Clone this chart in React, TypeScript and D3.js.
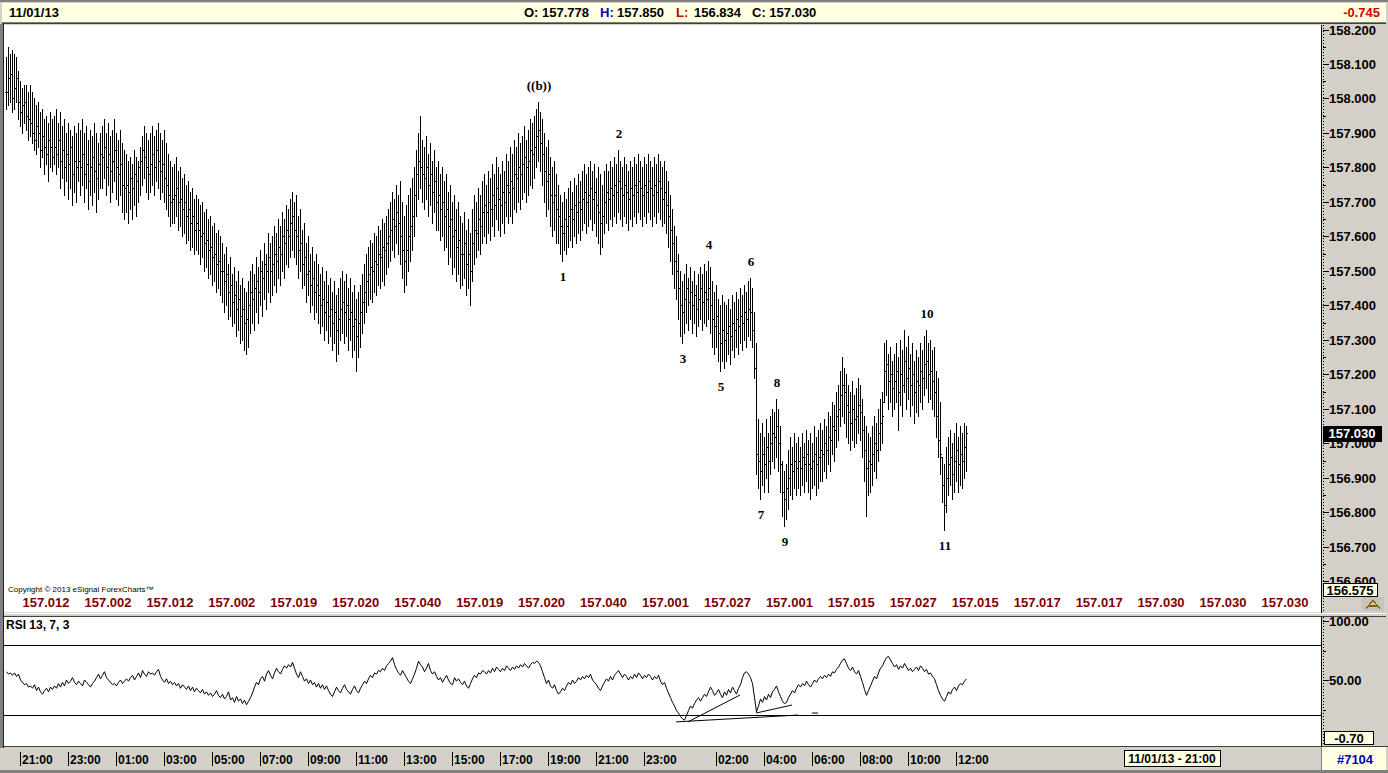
import React from "react";
import * as d3 from "d3";

// 5-minute bars, 10/30 20:25 -> 11/01 12:25 (one row per hour)
const highs = [
  158.12, 158.15, 158.13, 158.14, 158.13, 158.12, 158.08, 158.05, 158.03, 158.04, 158.04, 158.02,
  158.04, 158.02, 158.0, 157.98, 157.99, 157.96, 157.97, 157.94, 157.95, 157.93, 157.96, 157.94,
  157.95, 157.97, 157.93, 157.96, 157.92, 157.94, 157.9, 157.93, 157.91, 157.89, 157.92, 157.9,
  157.93, 157.91, 157.94, 157.9, 157.92, 157.88, 157.91, 157.89, 157.93, 157.9, 157.87, 157.9,
  157.92, 157.94, 157.9, 157.93, 157.89, 157.91, 157.94, 157.9, 157.88, 157.91, 157.87, 157.85,
  157.84, 157.82, 157.83, 157.81, 157.85, 157.83, 157.82, 157.86, 157.89, 157.92, 157.9, 157.88,
  157.9, 157.92, 157.89, 157.91, 157.93, 157.9, 157.88, 157.91, 157.87, 157.84, 157.82, 157.8,
  157.81, 157.83, 157.79, 157.8, 157.77, 157.78, 157.75, 157.76, 157.73, 157.74, 157.71, 157.72,
  157.71, 157.69, 157.7, 157.67, 157.68, 157.65, 157.66, 157.63, 157.64, 157.61, 157.62, 157.6,
  157.58, 157.55, 157.57, 157.52, 157.54, 157.49, 157.51, 157.47, 157.5, 157.46, 157.48, 157.45,
  157.44, 157.47, 157.5, 157.52, 157.49, 157.54, 157.51, 157.56, 157.53, 157.58, 157.55, 157.61,
  157.58, 157.6, 157.63, 157.61, 157.65, 157.63, 157.67, 157.65, 157.69, 157.68, 157.71, 157.73,
  157.7, 157.72, 157.66, 157.68, 157.62, 157.64, 157.58, 157.6, 157.55, 157.57, 157.53, 157.55,
  157.52, 157.49, 157.51, 157.47, 157.5, 157.46, 157.48, 157.44, 157.47, 157.43, 157.45, 157.48,
  157.5, 157.47, 157.49, 157.45, 157.48, 157.44, 157.46, 157.42, 157.44, 157.46, 157.49, 157.52,
  157.55, 157.57, 157.59, 157.58, 157.61, 157.6, 157.63, 157.62, 157.65, 157.64, 157.66, 157.68,
  157.7, 157.73, 157.71, 157.75, 157.72, 157.76, 157.7, 157.66, 157.69, 157.72, 157.74, 157.77,
  157.8, 157.85, 157.9, 157.95, 157.88, 157.86, 157.89, 157.84, 157.87, 157.82, 157.85, 157.8,
  157.82, 157.78, 157.8, 157.76, 157.78, 157.73, 157.75, 157.7, 157.72, 157.68, 157.7, 157.66,
  157.64, 157.67, 157.62, 157.65, 157.61, 157.68, 157.72, 157.7, 157.74, 157.72, 157.76, 157.78,
  157.75, 157.79, 157.77, 157.81, 157.78, 157.83, 157.8, 157.78, 157.82, 157.79, 157.84, 157.82,
  157.86, 157.84, 157.88, 157.86, 157.9, 157.87, 157.89, 157.92, 157.88, 157.91, 157.94, 157.93,
  157.95, 157.97, 157.99, 157.96, 157.94, 157.9, 157.86, 157.88, 157.83, 157.8, 157.82, 157.78,
  157.75, 157.72, 157.7, 157.73, 157.71, 157.74, 157.76, 157.73, 157.77, 157.75, 157.78, 157.76,
  157.79, 157.81, 157.78, 157.8, 157.82, 157.79, 157.81, 157.77, 157.8, 157.78, 157.75, 157.79,
  157.81, 157.79, 157.82, 157.8, 157.83, 157.81, 157.85, 157.82, 157.8, 157.83, 157.81, 157.79,
  157.82, 157.8, 157.83, 157.81, 157.84, 157.82, 157.8, 157.83, 157.81, 157.84, 157.82, 157.8,
  157.83, 157.81, 157.84, 157.82, 157.8, 157.82, 157.79, 157.76, 157.72, 157.68, 157.63, 157.6,
  157.55, 157.5, 157.47, 157.49, 157.52, 157.48, 157.51, 157.47, 157.5, 157.46, 157.49, 157.51,
  157.49, 157.52, 157.5, 157.53, 157.51, 157.47, 157.44, 157.46, 157.42, 157.4, 157.43, 157.41,
  157.4, 157.42, 157.39, 157.43, 157.41, 157.44, 157.42, 157.45, 157.43, 157.46, 157.44, 157.47,
  157.48, 157.45, 157.38, 157.29, 157.07, 157.03, 157.06, 157.02, 157.07, 157.03, 157.08, 157.1,
  157.09, 157.13, 157.1, 157.05, 156.95, 156.92, 156.94, 156.98, 157.02, 156.99, 157.03, 157.0,
  157.02, 156.99, 157.03, 157.0, 157.04, 157.01, 157.03, 157.0, 157.05, 157.02, 157.04, 157.06,
  157.04, 157.07, 157.05, 157.09, 157.08, 157.12, 157.11, 157.15, 157.17, 157.21, 157.25, 157.22,
  157.2, 157.17, 157.15, 157.18, 157.14, 157.16, 157.19, 157.17, 157.13, 157.08, 157.05, 157.03,
  157.02, 157.05, 157.08, 157.06, 157.1, 157.13, 157.15, 157.29, 157.3, 157.26, 157.28, 157.24,
  157.26, 157.29, 157.25, 157.3, 157.27, 157.33, 157.28, 157.31, 157.26, 157.29, 157.24, 157.27,
  157.25, 157.29, 157.27, 157.31, 157.33, 157.29, 157.3, 157.27, 157.28, 157.21, 157.19, 157.12,
  156.96, 156.94, 156.99, 157.02, 157.04, 157.0, 157.03, 157.06, 157.02, 157.05, 157.03, 157.06,
  157.05,
];

const lows = [
  157.97, 157.98, 157.99, 157.96, 157.97, 157.99, 157.94, 157.92, 157.9, 157.93, 157.91, 157.88,
  157.89, 157.87, 157.85, 157.84, 157.86, 157.8, 157.83, 157.78, 157.81, 157.76, 157.8, 157.79,
  157.81, 157.78, 157.8, 157.74, 157.77, 157.72, 157.76, 157.71, 157.74, 157.69, 157.73, 157.7,
  157.76, 157.72, 157.75, 157.7, 157.74, 157.68, 157.72, 157.69, 157.73, 157.67, 157.71, 157.74,
  157.74, 157.77, 157.72, 157.75, 157.7, 157.73, 157.76, 157.71, 157.69, 157.72, 157.67, 157.65,
  157.67, 157.64, 157.68, 157.65, 157.69, 157.66, 157.7, 157.72, 157.75, 157.77, 157.73, 157.71,
  157.73, 157.75, 157.72, 157.76, 157.74, 157.71, 157.73, 157.7, 157.68, 157.66, 157.63, 157.64,
  157.64, 157.66, 157.62, 157.63, 157.6, 157.61, 157.58, 157.59, 157.56, 157.57, 157.55, 157.56,
  157.55, 157.52, 157.54, 157.5, 157.51, 157.48, 157.49, 157.46, 157.47, 157.44, 157.45, 157.43,
  157.41, 157.38, 157.4, 157.36, 157.37, 157.34, 157.35, 157.31, 157.33, 157.29, 157.3, 157.27,
  157.26, 157.28, 157.32, 157.35, 157.33, 157.38, 157.35, 157.4, 157.37, 157.42, 157.39, 157.44,
  157.41, 157.43, 157.46, 157.44, 157.48, 157.46, 157.5, 157.48, 157.52, 157.51, 157.54, 157.56,
  157.54, 157.52, 157.48, 157.5, 157.45, 157.46, 157.41, 157.43, 157.38, 157.4, 157.36, 157.38,
  157.35, 157.32, 157.34, 157.3, 157.33, 157.29, 157.31, 157.27, 157.29, 157.24, 157.26, 157.3,
  157.32, 157.29, 157.31, 157.27, 157.3, 157.25, 157.27, 157.21, 157.25, 157.28, 157.32, 157.35,
  157.38, 157.4, 157.42, 157.41, 157.44, 157.43, 157.46, 157.45, 157.47, 157.46, 157.49, 157.51,
  157.53, 157.56, 157.54, 157.58, 157.55, 157.52, 157.48, 157.44, 157.46, 157.5, 157.53, 157.56,
  157.6, 157.66, 157.71, 157.74, 157.7, 157.68, 157.71, 157.66, 157.69, 157.64, 157.67, 157.62,
  157.62, 157.59, 157.6, 157.56, 157.57, 157.52, 157.54, 157.49, 157.51, 157.47, 157.49, 157.45,
  157.46, 157.48, 157.43, 157.45, 157.4, 157.47, 157.52, 157.54, 157.56, 157.55, 157.58, 157.6,
  157.58, 157.61, 157.59, 157.63, 157.6, 157.65, 157.62, 157.6, 157.64, 157.61, 157.66, 157.64,
  157.66, 157.64, 157.68, 157.67, 157.7, 157.68, 157.71, 157.73, 157.7, 157.72, 157.75, 157.74,
  157.77, 157.8, 157.82, 157.79, 157.75, 157.7, 157.66, 157.68, 157.63, 157.6, 157.62, 157.58,
  157.58, 157.55, 157.53, 157.56, 157.55, 157.57, 157.59, 157.57, 157.6, 157.58, 157.61, 157.59,
  157.62, 157.64, 157.61, 157.63, 157.65, 157.62, 157.64, 157.6, 157.58, 157.55, 157.57, 157.61,
  157.64, 157.62, 157.65, 157.63, 157.66, 157.64, 157.67, 157.65, 157.63, 157.66, 157.64, 157.62,
  157.65, 157.63, 157.66, 157.64, 157.67, 157.65, 157.63, 157.66, 157.64, 157.67, 157.65, 157.63,
  157.66, 157.64, 157.67, 157.65, 157.63, 157.64, 157.61, 157.57, 157.53, 157.49, 157.45, 157.42,
  157.36, 157.31, 157.29, 157.32, 157.35, 157.33, 157.36, 157.32, 157.35, 157.31, 157.34, 157.36,
  157.33, 157.35, 157.34, 157.36, 157.32, 157.28, 157.26, 157.28, 157.24, 157.21, 157.24, 157.22,
  157.24, 157.26, 157.23, 157.27, 157.25, 157.28, 157.26, 157.29, 157.27, 157.3, 157.28, 157.31,
  157.3, 157.28, 157.19, 156.91, 156.87, 156.84, 156.88, 156.86, 156.9, 156.86, 156.91, 156.95,
  156.93, 156.96, 156.92, 156.86, 156.79, 156.76, 156.78, 156.81, 156.85, 156.84, 156.87, 156.85,
  156.87, 156.85, 156.88, 156.86, 156.89, 156.86, 156.84, 156.87, 156.88, 156.85, 156.87, 156.89,
  156.89, 156.92, 156.9, 156.94, 156.92, 156.97, 156.95, 156.99, 157.01, 157.05, 157.08, 157.06,
  157.02, 157.0, 156.98, 157.01, 156.99, 157.0, 157.03, 157.01, 156.96, 156.89, 156.79, 156.85,
  156.86, 156.88, 156.92, 156.9, 156.95, 156.98, 157.0, 157.12, 157.14, 157.1, 157.12, 157.08,
  157.1, 157.12, 157.04, 157.11, 157.08, 157.15, 157.1, 157.13, 157.08, 157.11, 157.06, 157.09,
  157.08, 157.12, 157.1, 157.14, 157.16, 157.12, 157.13, 157.1, 157.08, 157.02, 156.96, 156.91,
  156.83, 156.75, 156.8, 156.85, 156.88, 156.84, 156.86, 156.89, 156.86, 156.88, 156.87, 156.9,
  156.92,
];

const closes = [
  158.02, 158.06, 158.07, 158.0, 158.03, 158.06, 157.99, 157.96, 157.98, 157.99, 157.95, 157.94,
  157.93, 157.9, 157.88, 157.92, 157.9, 157.85, 157.89, 157.86, 157.84, 157.88, 157.86, 157.83,
  157.86, 157.84, 157.88, 157.82, 157.85, 157.8, 157.84, 157.81, 157.86, 157.78, 157.82, 157.8,
  157.82, 157.8, 157.84, 157.78, 157.81, 157.76, 157.8, 157.83, 157.79, 157.77, 157.81, 157.84,
  157.83, 157.86, 157.8, 157.84, 157.79, 157.82, 157.85, 157.8, 157.78, 157.81, 157.75, 157.74,
  157.75, 157.73, 157.77, 157.74, 157.78, 157.76, 157.8, 157.82, 157.85, 157.83, 157.8, 157.78,
  157.81, 157.84, 157.8, 157.85, 157.82, 157.79, 157.81, 157.77, 157.75, 157.72, 157.7, 157.71,
  157.72, 157.74, 157.7, 157.71, 157.68, 157.7, 157.66, 157.68, 157.64, 157.66, 157.62, 157.64,
  157.62, 157.6, 157.61, 157.58, 157.59, 157.56, 157.57, 157.54, 157.55, 157.52, 157.53, 157.5,
  157.5, 157.47, 157.49, 157.44, 157.46, 157.41, 157.43, 157.39, 157.42, 157.37, 157.39, 157.35,
  157.36, 157.4, 157.44, 157.42, 157.45, 157.47, 157.44, 157.5, 157.48, 157.52, 157.5, 157.54,
  157.5, 157.52, 157.55, 157.53, 157.57, 157.55, 157.6, 157.58, 157.62, 157.6, 157.64, 157.66,
  157.62, 157.6, 157.56, 157.58, 157.52, 157.54, 157.49, 157.5, 157.46, 157.48, 157.44, 157.46,
  157.43, 157.4, 157.42, 157.38, 157.41, 157.37, 157.39, 157.35, 157.38, 157.33, 157.36, 157.39,
  157.41, 157.38, 157.4, 157.36, 157.38, 157.34, 157.36, 157.31, 157.35, 157.38, 157.41, 157.44,
  157.47, 157.49, 157.51, 157.5, 157.53, 157.52, 157.55, 157.54, 157.57, 157.56, 157.58, 157.6,
  157.62, 157.65, 157.63, 157.67, 157.64, 157.6, 157.56, 157.53, 157.56, 157.6, 157.63, 157.66,
  157.72, 157.78, 157.82, 157.8, 157.78, 157.77, 157.8, 157.75, 157.78, 157.73, 157.76, 157.7,
  157.72, 157.68, 157.7, 157.66, 157.68, 157.63, 157.65, 157.6, 157.62, 157.57, 157.59, 157.55,
  157.55, 157.58, 157.52, 157.55, 157.5, 157.58, 157.62, 157.61, 157.65, 157.63, 157.67, 157.69,
  157.67, 157.7, 157.68, 157.72, 157.69, 157.74, 157.71, 157.69, 157.73, 157.7, 157.75, 157.73,
  157.76, 157.74, 157.78, 157.77, 157.8, 157.78, 157.81, 157.83, 157.8, 157.82, 157.85, 157.84,
  157.86, 157.89, 157.91, 157.87, 157.84, 157.79, 157.76, 157.78, 157.72, 157.7, 157.72, 157.68,
  157.66, 157.63, 157.61, 157.65, 157.63, 157.66, 157.68, 157.65, 157.69, 157.67, 157.7, 157.68,
  157.71, 157.73, 157.7, 157.72, 157.74, 157.71, 157.73, 157.69, 157.67, 157.64, 157.66, 157.7,
  157.73, 157.71, 157.74, 157.72, 157.75, 157.73, 157.76, 157.74, 157.72, 157.75, 157.73, 157.71,
  157.74, 157.72, 157.75, 157.73, 157.76, 157.74, 157.72, 157.75, 157.73, 157.76, 157.74, 157.72,
  157.75, 157.73, 157.76, 157.74, 157.71, 157.73, 157.69, 157.66, 157.62, 157.58, 157.53, 157.5,
  157.45, 157.4, 157.38, 157.42, 157.45, 157.41, 157.44, 157.4, 157.43, 157.39, 157.42, 157.45,
  157.41, 157.44, 157.42, 157.45, 157.4, 157.36, 157.34, 157.37, 157.32, 157.29, 157.33, 157.3,
  157.32, 157.34, 157.31, 157.35, 157.33, 157.36, 157.34, 157.37, 157.35, 157.38, 157.36, 157.39,
  157.38, 157.33, 157.22, 156.97, 156.95, 156.92, 156.97, 156.94, 156.99, 156.95, 157.0, 157.03,
  157.02, 157.05, 157.0, 156.94, 156.86, 156.84, 156.87, 156.9, 156.94, 156.92, 156.95, 156.93,
  156.95, 156.93, 156.96, 156.94, 156.97, 156.94, 156.93, 156.95, 156.97, 156.94, 156.96, 156.98,
  156.97, 157.0, 156.98, 157.02, 157.01, 157.05, 157.04, 157.08, 157.1, 157.14, 157.17, 157.15,
  157.11, 157.09, 157.06, 157.1, 157.07, 157.08, 157.11, 157.09, 157.04, 156.98, 156.93, 156.95,
  156.94, 156.97, 157.0, 156.98, 157.03, 157.06, 157.08, 157.21, 157.23, 157.18, 157.2, 157.16,
  157.18, 157.21, 157.15, 157.2, 157.17, 157.24, 157.19, 157.22, 157.17, 157.2, 157.15, 157.18,
  157.17, 157.21, 157.19, 157.23, 157.24, 157.2, 157.21, 157.18, 157.15, 157.08, 157.01, 156.97,
  156.88, 156.82, 156.9, 156.94, 156.96, 156.91, 156.95, 156.98, 156.94, 156.97, 156.95, 156.99,
  157.03,
];

const rsi = [
  57, 55, 56, 54, 56, 53, 55, 50, 48, 46, 47, 44,
  45, 43, 46, 41, 44, 40, 38, 41, 43, 40, 44, 42,
  45, 43, 47, 44, 48, 45, 50, 47, 49, 52, 48, 46,
  49, 47, 45, 50, 48, 46, 44, 47, 49, 52, 55, 51,
  54, 57, 52, 50, 48, 46, 47, 45, 48, 50, 47, 49,
  51, 49, 52, 54, 50, 53, 56, 52, 58, 55, 53, 57,
  55, 56, 54, 57, 59, 53, 50, 48, 51, 47, 49, 46,
  48, 45, 47, 43, 46, 44, 42, 45, 41, 44, 40, 43,
  41, 39, 42, 38, 40, 37, 39, 36, 38, 41, 37, 35,
  38, 34, 36, 40, 33, 35, 31, 36, 32, 34, 30, 33,
  29, 32, 35, 39, 44, 48, 46, 51, 53, 49, 55, 58,
  54, 51, 56, 60, 57, 55, 59, 62, 60, 63, 61, 65,
  60, 55, 52, 57, 53, 49, 51, 47, 50, 46, 48, 44,
  47, 43, 46, 42, 45, 41, 38, 36, 40, 44, 41, 39,
  43, 46, 42, 40, 38, 42, 45, 41, 39, 43, 46, 49,
  47, 51, 54, 52, 56, 55, 58, 57, 60, 58, 62, 64,
  66, 69, 63, 59, 56, 54, 58, 55, 52, 49, 47, 51,
  55, 60, 66, 63, 61, 57, 60, 64, 58, 55, 57, 53,
  50, 52, 48, 51, 54, 50, 47, 46, 52, 49, 51, 48,
  46, 49, 45, 43, 47, 51, 54, 52, 56, 55, 58, 57,
  55, 58, 56, 60, 57, 61, 59, 57, 60, 58, 62, 60,
  58, 61, 59, 62, 60, 63, 61, 64, 62, 60, 63, 65,
  64, 66, 65, 62, 57, 52, 47, 50, 45, 43, 46, 41,
  38, 40, 43, 41, 45, 48, 46, 50, 47, 49, 52, 50,
  53, 51, 54, 52, 55, 50, 48, 46, 43, 41, 45, 48,
  51, 49, 53, 50, 54, 56, 58, 55, 52, 55, 53, 50,
  53, 51, 55, 52, 56, 54, 51, 54, 52, 55, 53, 50,
  53, 51, 54, 49, 46, 48, 43, 39, 35, 31, 28, 24,
  22, 19, 17, 16, 20, 24, 28, 26, 30, 33, 35, 32,
  35, 38, 36, 40, 44, 41, 37, 39, 42, 38, 35, 40,
  37, 42, 39, 44, 41, 38, 43, 46, 52, 56, 57, 55,
  52, 47, 35, 23, 28, 34, 31, 36, 33, 38, 35, 40,
  42, 45, 40, 36, 32, 30, 31, 35, 38, 41, 39, 43,
  46, 44, 47, 45, 49, 46, 44, 47, 50, 48, 51, 53,
  51, 54, 52, 55, 53, 57, 56, 59, 61, 64, 67, 68,
  64, 60, 58, 61, 57, 55, 58, 53, 48, 42, 37, 41,
  45, 49, 53, 51, 56, 60, 62, 66, 69, 70, 67, 64,
  61, 63, 59, 62, 60, 64, 61, 58, 60, 57, 59, 61,
  58, 62, 60, 57, 59, 55, 56, 53, 51, 46, 41, 37,
  34, 32, 36, 40, 38, 42, 44, 41, 45, 47, 46, 49,
  51,
];

// wave counts: bar index, drawn above the high or below the low
const waveLabels = [
  { text: "((b))", bar: 266, side: "above" },
  { text: "1", bar: 278, side: "below" },
  { text: "2", bar: 306, side: "above" },
  { text: "3", bar: 338, side: "below" },
  { text: "4", bar: 351, side: "above" },
  { text: "5", bar: 357, side: "below" },
  { text: "6", bar: 372, side: "above" },
  { text: "7", bar: 377, side: "below" },
  { text: "8", bar: 385, side: "above" },
  { text: "9", bar: 389, side: "below" },
  { text: "10", bar: 460, side: "above" },
  { text: "11", bar: 469, side: "below" },
];

// lines drawn on the RSI pane: [bar, rsi] end points
const rsiTrendLines = [
  [[335, 14.5], [396, 20.3]],
  [[341, 14.5], [367, 37.3]],
  [[375, 22], [393, 28.8]],
  [[403, 22], [406, 22]],
];

const footerValues = [
  "157.012", "157.002", "157.012", "157.002", "157.019", "157.020", "157.040",
  "157.019", "157.020", "157.040", "157.001", "157.027", "157.001", "157.015",
  "157.027", "157.015", "157.017", "157.017", "157.030", "157.030", "157.030",
];

const headerDate = "11/01/13";
const headerOHLC = ["157.778", "157.850", "156.834", "157.030"];
const headerChange = "-0.745";
const lastPrice = "157.030";
const panelLow = "156.575";
const rsiLow = "-0.70";
const cursorText = "11/01/13 - 21:00";
const barCountText = "#7104";
const tickHours = [0, 2, 4, 6, 8, 10, 12, 14, 16, 18, 20, 22, 24, 26, 29, 31, 33, 35, 37, 39];

const FONT = "'Liberation Sans', Arial, sans-serif";
const SERIF = "'Liberation Serif', 'Times New Roman', serif";
const GRAY = "#d4d0c8";
const CREAM = "#ffffe1";

export default function App() {
  const W = 1388;
  const H = 773;
  const plotL = 4;
  const plotR = 1321;
  const axisL = 1322;

  const n = Math.min(highs.length, lows.length, closes.length);
  const x = d3.scaleLinear().domain([0, 480]).range([6, 966]);
  const y = d3.scaleLinear().domain([156.575, 158.2]).range([590, 29.5]);
  const yr = d3.scaleLinear().domain([0, 100]).range([739, 621]);
  const start = new Date(2013, 9, 30, 21, 0);
  const t = d3
    .scaleTime()
    .domain([new Date(2013, 9, 30, 20, 25), new Date(2013, 10, 1, 12, 25)])
    .range([6, 966]);
  const fmt = d3.timeFormat("%H:%M");

  const priceTicks = d3.range(0, 17).map((i) => 156.6 + i * 0.1);
  const minorTicks = d3.range(0, 16).map((i) => 156.65 + i * 0.1);
  const footerX = d3.scaleLinear().domain([0, footerValues.length - 1]).range([46, 1285]);

  const rsiLine = d3
    .line<number>()
    .x((_, i) => x(i) + 0.5)
    .y((d) => yr(d));

  const bars = [];
  for (let i = 0; i < n; i++) {
    const bx = Math.round(x(i));
    const yh = Math.round(y(highs[i]));
    const yl = Math.round(y(lows[i]));
    const prev = i > 0 ? closes[i - 1] : closes[i];
    const open = Math.max(lows[i], Math.min(highs[i], prev));
    const yo = Math.round(y(open));
    const yc = Math.round(y(closes[i]));
    bars.push(
      <g key={i}>
        <rect x={bx} y={yh} width={1} height={yl - yh + 1} />
        <rect x={bx - 1} y={yo} width={1} height={1} />
        <rect x={bx + 1} y={yc} width={1} height={1} />
      </g>
    );
  }

  return (
    <svg
      width={W}
      height={H}
      style={{ position: "absolute", left: 0, top: 0, display: "block" }}
      shapeRendering="crispEdges"
    >
      <defs>
        <clipPath id="rsiAxisClip">
          <rect x={axisL} y={617} width={W - axisL} height={129} />
        </clipPath>
        <clipPath id="priceAxisClip">
          <rect x={axisL} y={25} width={W - axisL} height={587} />
        </clipPath>
      </defs>
      <rect x={0} y={0} width={W} height={H} fill={GRAY} />

      {/* header */}
      <rect x={0} y={0} width={W} height={2} fill="#808080" />
      <rect x={2} y={3} width={W - 4} height={19} fill={CREAM} />
      <rect x={2} y={22} width={W - 4} height={1} fill="#808080" />
      <rect x={2} y={23} width={W - 4} height={1} fill="#404040" />
      <text x={9} y={17} fontFamily={FONT} fontWeight="bold" fontSize={13} fill="#000">
        {headerDate}
      </text>
      <g fontFamily={FONT} fontWeight="bold" fontSize={13}>
        <text x={524} y={17} fill="#000">O: {headerOHLC[0]}</text>
        <text x={600} y={17} fill="#0000c0">H:</text>
        <text x={617} y={17} fill="#000">{headerOHLC[1]}</text>
        <text x={676} y={17} fill="#c00000">L:</text>
        <text x={694} y={17} fill="#000">{headerOHLC[2]}</text>
        <text x={752} y={17} fill="#000">C: {headerOHLC[3]}</text>
        <text x={1380} y={17} fill="#d00000" textAnchor="end">{headerChange}</text>
      </g>

      {/* left frame */}
      <rect x={0} y={24} width={3} height={724} fill="#808080" />
      <rect x={3} y={24} width={1} height={724} fill="#202020" />

      {/* price pane */}
      <rect x={plotL} y={25} width={plotR - plotL} height={587} fill="#fff" />
      <g fill="#000">{bars}</g>
      <g fontFamily={SERIF} fontWeight="bold" fontSize={13} textAnchor="middle" fill="#000">
        {waveLabels.map((w) => {
          const above = w.side === "above";
          const yy = above ? y(highs[w.bar]) - 12 : y(lows[w.bar]) + 20;
          return (
            <text key={w.text} x={x(w.bar) + 1} y={yy}>
              {w.text}
            </text>
          );
        })}
      </g>
      <text x={8} y={592} fontFamily={FONT} fontSize={8} fill="#000">
        Copyright © 2013 eSignal ForexCharts™
      </text>
      <g fontFamily={FONT} fontWeight="bold" fontSize={13} fill="#800000" textAnchor="middle">
        {footerValues.map((v, i) => (
          <text key={i} x={footerX(i)} y={607}>
            {v}
          </text>
        ))}
      </g>

      {/* price axis */}
      <rect x={plotR} y={25} width={1} height={588} fill="#000" />
      <rect x={axisL} y={25} width={W - axisL - 2} height={587} fill={GRAY} />
      <line x1={axisL + 1.5} x2={axisL + 1.5} y1={25} y2={612} stroke="#000" strokeDasharray="1,2" />
      <g clipPath="url(#priceAxisClip)" fontFamily={FONT} fontWeight="bold" fontSize={13}>
        {minorTicks.map((v, i) => (
          <rect key={i} x={axisL + 1} y={Math.round(y(v))} width={3} height={1} fill="#000" />
        ))}
        {priceTicks.map((v, i) => (
          <g key={i}>
            <rect x={axisL + 1} y={Math.round(y(v))} width={6} height={1} fill="#000" />
            <text x={axisL + 7} y={y(v) + 5} fill="#000">
              {v.toFixed(3)}
            </text>
          </g>
        ))}
        <rect x={axisL + 1} y={426} width={59} height={16} fill="#000" />
        <text x={axisL + 30} y={y(+lastPrice) + 5} fill="#fff" textAnchor="middle">
          {lastPrice}
        </text>
        <rect x={axisL + 1} y={583.5} width={54} height={13} fill={CREAM} stroke="#000" strokeWidth={1} />
        <text x={axisL + 28} y={595} fill="#000" textAnchor="middle">
          {panelLow}
        </text>
        <rect x={1362} y={597} width={22} height={14} fill="#c8c4bc" />
        <path d="M1366,609 L1373,600 L1380,609 M1368,606 L1378,606" stroke="#806000" fill="none" strokeWidth={1.2} />
      </g>

      {/* separator */}
      <rect x={plotL} y={613} width={W - plotL - 2} height={1} fill="#fff" />
      <rect x={plotL} y={616} width={W - plotL - 2} height={1} fill="#404040" />

      {/* RSI pane */}
      <rect x={plotL} y={617} width={plotR - plotL} height={129} fill="#fff" />
      <text x={6} y={629} fontFamily={FONT} fontWeight="bold" fontSize={12} fill="#000">
        RSI 13, 7, 3
      </text>
      <line x1={plotL} x2={plotR} y1={Math.round(yr(80)) + 0.5} y2={Math.round(yr(80)) + 0.5} stroke="#000" />
      <line x1={plotL} x2={plotR} y1={Math.round(yr(20)) + 0.5} y2={Math.round(yr(20)) + 0.5} stroke="#000" />
      <path d={rsiLine(rsi.slice(0, n)) || ""} fill="none" stroke="#000" strokeWidth={1} shapeRendering="auto" />
      <g stroke="#000" strokeWidth={1} shapeRendering="auto">
        {rsiTrendLines.map((l, i) => (
          <line key={i} x1={x(l[0][0])} y1={yr(l[0][1])} x2={x(l[1][0])} y2={yr(l[1][1])} />
        ))}
      </g>

      {/* RSI axis */}
      <rect x={plotR} y={617} width={1} height={129} fill="#000" />
      <rect x={axisL} y={617} width={W - axisL - 2} height={129} fill={GRAY} />
      <line x1={axisL + 1.5} x2={axisL + 1.5} y1={617} y2={746} stroke="#000" strokeDasharray="1,2" />
      <g clipPath="url(#rsiAxisClip)" fontFamily={FONT} fontWeight="bold" fontSize={13} fill="#000">
        {[75, 25].map((v) => (
          <rect key={v} x={axisL + 1} y={Math.round(yr(v))} width={3} height={1} />
        ))}
        {[100, 50].map((v) => (
          <g key={v}>
            <rect x={axisL + 1} y={Math.round(yr(v))} width={6} height={1} />
            <text x={axisL + 7} y={yr(v) + 5}>
              {v.toFixed(2)}
            </text>
          </g>
        ))}
        <rect x={axisL + 2.5} y={731.5} width={49} height={13} fill={CREAM} stroke="#000" />
        <text x={axisL + 27} y={743} textAnchor="middle">
          {rsiLow}
        </text>
      </g>

      {/* time axis */}
      <rect x={plotL} y={746} width={W - plotL} height={1} fill="#404040" />
      <rect x={plotL} y={747} width={axisL - plotL - 1} height={23} fill={GRAY} />
      <g fontFamily={FONT} fontWeight="bold" fontSize={12} fill="#000">
        {tickHours.map((h) => {
          const d = d3.timeHour.offset(start, h);
          const tx = Math.round(t(d));
          return (
            <g key={h}>
              <rect x={tx} y={752} width={1} height={14} />
              <text x={tx + 2} y={764}>
                {fmt(d)}
              </text>
            </g>
          );
        })}
      </g>
      <rect x={1124.5} y={750.5} width={96} height={16} fill={CREAM} stroke="#000" />
      <text x={1172} y={763} fontFamily={FONT} fontWeight="bold" fontSize={12} textAnchor="middle" fill="#000">
        {cursorText}
      </text>
      <rect x={axisL} y={747} width={W - axisL - 2} height={23} fill={CREAM} />
      <rect x={axisL - 1} y={747} width={1} height={23} fill="#808080" />
      <text x={1355} y={764} fontFamily={FONT} fontWeight="bold" fontSize={13} textAnchor="middle" fill="#0000c0">
        {barCountText}
      </text>
      <rect x={0} y={770} width={W} height={3} fill="#808080" />
    </svg>
  );
}
